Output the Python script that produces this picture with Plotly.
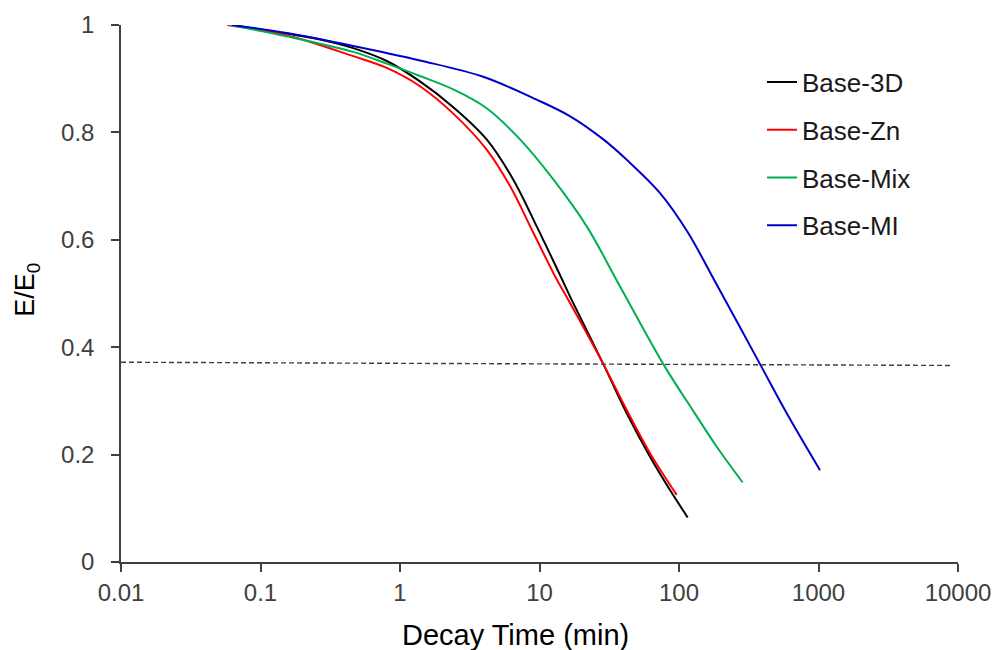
import plotly.graph_objects as go

# Data
x_3d = [0.0622, 0.154, 0.267, 0.462, 0.804, 1.39, 2.41, 4.18, 6.49, 9.55, 14.0, 17.0, 28.7, 42.2, 62.0, 86.2, 115.4]
y_3d = [1.0, 0.984, 0.973, 0.957, 0.933, 0.895, 0.847, 0.787, 0.712, 0.625, 0.535, 0.488, 0.3685, 0.277, 0.196, 0.134, 0.083]

x_zn = [0.0578, 0.154, 0.462, 0.804, 1.39, 2.41, 4.18, 6.15, 9.03, 13.3, 16.1, 28.7, 42.2, 62.0, 96.3]
y_zn = [1.0, 0.981, 0.942, 0.920, 0.886, 0.835, 0.768, 0.700, 0.613, 0.526, 0.488, 0.3685, 0.283, 0.2026, 0.125]

x_mix = [0.06, 0.154, 0.462, 0.804, 1.39, 2.41, 4.18, 7.25, 12.6, 21.8, 37.8, 77.2, 126.7, 186, 286]
y_mix = [1.0, 0.979, 0.950, 0.928, 0.905, 0.880, 0.845, 0.787, 0.712, 0.625, 0.513, 0.3685, 0.281, 0.215, 0.148]

x_mi = [0.0622, 0.154, 0.462, 1.39, 3.9, 9.55, 16.6, 28.7, 42.2, 73.1, 115, 178, 381, 592, 1025]
y_mi = [1.0, 0.985, 0.961, 0.934, 0.904, 0.861, 0.830, 0.787, 0.749, 0.687, 0.615, 0.526, 0.3685, 0.277, 0.171]

x_ref = [0.01, 9000]
y_ref = [0.372, 0.366]

series = [
    ("Base-3D", x_3d, y_3d, "#000000"),
    ("Base-Zn", x_zn, y_zn, "#FF0000"),
    ("Base-Mix", x_mix, y_mix, "#00B050"),
    ("Base-MI", x_mi, y_mi, "#0000CC"),
]

FONT = "Liberation Sans, Arial, sans-serif"

fig = go.Figure()
for i, (name, xs, ys, col) in enumerate(series):
    fig.add_trace(go.Scatter(
        x=xs, y=ys, name=name, mode="lines",
        line=dict(color=col, width=2, shape="spline", smoothing=1.0),
        legendgroup=f"g{i}",
    ))

fig.add_trace(go.Scatter(
    x=x_ref, y=y_ref, mode="lines", showlegend=False,
    line=dict(color="#404040", width=1.4, dash="5px,3px"),
))

axis_common = dict(
    showgrid=False, zeroline=False, showline=True, automargin=False,
    linecolor="#404040", linewidth=1.5,
    ticks="outside", ticklen=8, tickwidth=1.5, tickcolor="#404040",
    tickfont=dict(family=FONT, size=24, color="#404040"),
)

fig.update_xaxes(
    type="log", range=[-2, 4],
    tickvals=[0.01, 0.1, 1, 10, 100, 1000, 10000],
    ticktext=["0.01", "0.1", "1", "10", "100", "1000", "10000"],
    **axis_common,
)
fig.update_yaxes(
    range=[0, 1],
    tickvals=[0, 0.2, 0.4, 0.6, 0.8, 1],
    ticktext=["0", "0.2", "0.4", "0.6", "0.8", "1"],
    ticklabelstandoff=12,
    **axis_common,
)

fig.add_annotation(
    text="Decay Time (min)", xref="paper", yref="paper",
    x=(515 - 121) / 837, y=-(635 - 562) / 536.5,
    xanchor="center", yanchor="middle", showarrow=False,
    font=dict(family=FONT, size=29, color="#000000"),
)
fig.add_annotation(
    text="E/E<sub>0</sub>", xref="paper", yref="paper",
    x=-(121 - 27) / 837, y=(562 - 290) / 536.5,
    xanchor="center", yanchor="middle", showarrow=False, textangle=-90,
    font=dict(family=FONT, size=27, color="#000000"),
)

fig.update_layout(
    width=997, height=650,
    margin=dict(l=121, r=39, t=25, b=88),
    paper_bgcolor="white", plot_bgcolor="white",
    showlegend=True,
    legend=dict(
        x=(762 - 121) / 837, y=(562 - 59) / 536.5,
        xanchor="left", yanchor="top",
        traceorder="grouped", tracegroupgap=11,
        font=dict(family=FONT, size=26, color="#1a1a1a"),
        bgcolor="rgba(0,0,0,0)",
    ),
)

fig.write_html("out.html")
